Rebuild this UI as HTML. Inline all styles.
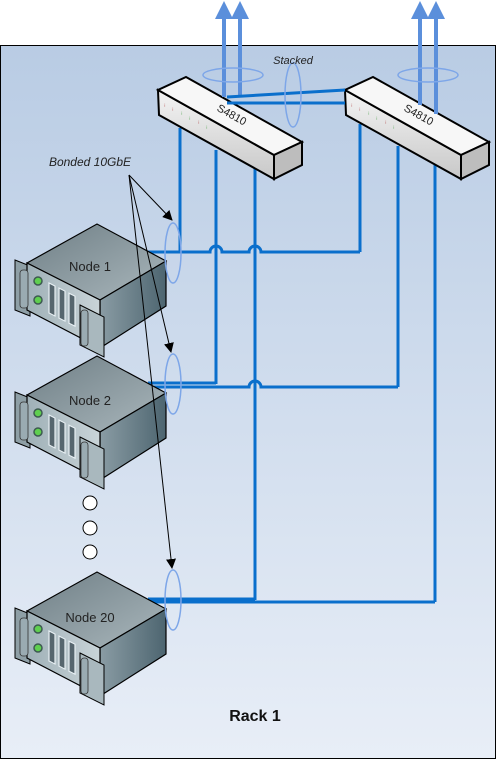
<!DOCTYPE html>
<html><head><meta charset="utf-8"><style>
html,body{margin:0;padding:0;background:#fff;}
svg{display:block;font-family:"Liberation Sans",sans-serif;}
</style></head><body>
<svg width="496" height="759" viewBox="0 0 496 759" xmlns="http://www.w3.org/2000/svg">
<defs>
<linearGradient id="bg" x1="0" y1="0" x2="0" y2="1">
<stop offset="0" stop-color="#b9cce4"/><stop offset="1" stop-color="#e8eef7"/>
</linearGradient>
<linearGradient id="top" x1="0" y1="0" x2="1" y2="1">
<stop offset="0" stop-color="#6f7f86"/><stop offset="1" stop-color="#aab7bc"/>
</linearGradient>
<linearGradient id="right" x1="0" y1="0" x2="1" y2="0">
<stop offset="0" stop-color="#8a9ca4"/><stop offset="1" stop-color="#4d6570"/>
</linearGradient>
<linearGradient id="front" x1="0" y1="0" x2="1" y2="0">
<stop offset="0" stop-color="#9fb0b7"/><stop offset="1" stop-color="#c9d4d8"/>
</linearGradient>
<linearGradient id="swf" x1="0" y1="0" x2="0" y2="1">
<stop offset="0" stop-color="#f4f4f4"/><stop offset="1" stop-color="#c8c8c8"/>
</linearGradient>
<marker id="ah" markerWidth="10" markerHeight="10" refX="9" refY="5" orient="auto" markerUnits="userSpaceOnUse">
<path d="M0,0 L10,5 L0,10 Z" fill="#000"/>
</marker>
<g id="srv">
<polygon points="15,392 30,398 30,448 15,442" fill="#8e9fa6" stroke="#000" stroke-width="1"/>
<polygon points="27,395 97,356 166,393 100,432" fill="url(#top)" stroke="#000" stroke-width="1.2"/>
<polygon points="100,432 166,393 166,438 100,480" fill="url(#right)" stroke="#000" stroke-width="1.2"/>
<polygon points="27,395 100,432 100,480 27,442" fill="url(#front)" stroke="#000" stroke-width="1.2"/>
<rect x="20" y="402" width="8" height="38" rx="3" fill="#9aabb2" stroke="#333" stroke-width="0.8"/>
<circle cx="38" cy="413" r="4" fill="#5fcf4f" stroke="#3d5a50" stroke-width="1.5"/>
<circle cx="38" cy="432" r="4" fill="#5fcf4f" stroke="#3d5a50" stroke-width="1.5"/>
<rect x="49" y="415" width="6" height="30" fill="#56666e" stroke="#e8f0f4" stroke-width="1.2" transform="skewY(27) translate(0,-25)"/>
<rect x="59" y="420" width="6" height="30" fill="#56666e" stroke="#e8f0f4" stroke-width="1.2" transform="skewY(27) translate(0,-30)"/>
<rect x="69" y="425" width="6" height="30" fill="#56666e" stroke="#e8f0f4" stroke-width="1.2" transform="skewY(27) translate(0,-35)"/>
<polygon points="80,437 104,449 104,489 80,477" fill="#a9b8be" stroke="#000" stroke-width="1"/>
<rect x="81" y="442" width="7" height="36" rx="3" fill="#9aabb2" stroke="#333" stroke-width="0.8"/>
</g>
</defs>
<rect x="0.5" y="45.5" width="495" height="713" fill="url(#bg)" stroke="#000" stroke-width="1"/>

<!-- downlinks (under switches) -->
<g stroke="#0a6fcc" stroke-width="3" fill="none">
<line x1="180" y1="128" x2="180" y2="252"/>
<line x1="216" y1="150" x2="216" y2="384"/>
<line x1="255" y1="168" x2="255" y2="600"/>
<line x1="360" y1="124" x2="360" y2="252"/>
<line x1="398" y1="146" x2="398" y2="387"/>
<line x1="435" y1="164" x2="435" y2="602"/>
<path d="M148,252 H210 a6,6 0 0 1 12,0 H249 a6,6 0 0 1 12,0 H360"/>
<path d="M148,383 H216"/>
<path d="M148,387 H249 a6,6 0 0 1 12,0 H398"/>
<path d="M148,599 H255"/>
<path d="M148,602 H435"/>
</g>

<!-- switches -->
<g>
<polygon points="158,90 274,155 274,179 159,115" fill="url(#swf)" stroke="#000" stroke-width="2"/>
<polygon points="186,77 302,142 274,155 158,90" fill="#f7f7f7" stroke="#000" stroke-width="2"/>
<polygon points="274,155 302,142 302,165 274,179" fill="#bdbdbd" stroke="#000" stroke-width="2"/>
</g>
<g transform="translate(187,0)">
<polygon points="158,90 274,155 274,179 159,115" fill="url(#swf)" stroke="#000" stroke-width="2"/>
<polygon points="186,77 302,142 274,155 158,90" fill="#f7f7f7" stroke="#000" stroke-width="2"/>
<polygon points="274,155 302,142 302,165 274,179" fill="#bdbdbd" stroke="#000" stroke-width="2"/>
</g>
<g font-size="11">
<text x="230" y="118" transform="rotate(29 230 118)" text-anchor="middle" fill="#222">S4810</text>
<text x="417" y="118" transform="rotate(29 417 118)" text-anchor="middle" fill="#222">S4810</text>
</g>
<g font-size="5" fill="#a33">
<text x="164" y="107">⁝</text><text x="172" y="111">⁝</text><text x="181" y="115" fill="#393">⁝</text><text x="189" y="120" fill="#393">⁝</text><text x="198" y="124">⁝</text><text x="206" y="129" fill="#393">⁝</text>
<text x="351" y="107">⁝</text><text x="359" y="111">⁝</text><text x="368" y="115" fill="#393">⁝</text><text x="376" y="120" fill="#393">⁝</text><text x="385" y="124">⁝</text><text x="393" y="129" fill="#393">⁝</text>
</g>

<!-- uplinks -->
<g stroke="#5b8fdb" stroke-width="4" fill="none">
<line x1="224" y1="97" x2="224" y2="15"/><line x1="240" y1="97" x2="240" y2="15"/>
<line x1="420" y1="105" x2="420" y2="15"/><line x1="436" y1="114" x2="436" y2="15"/>
</g>
<g fill="#5b8fdb">
<polygon points="224,1 215,19 233,19"/><polygon points="240,1 231,19 249,19"/>
<polygon points="420,1 411,19 429,19"/><polygon points="436,1 427,19 445,19"/>
</g>
<g fill="none" stroke="#7da6e8" stroke-width="1.5">
<ellipse cx="233" cy="75" rx="30" ry="7"/>
<ellipse cx="428" cy="75" rx="30" ry="7"/>
</g>

<!-- stack links -->
<g stroke="#0a6fcc" stroke-width="3" fill="none">
<line x1="227" y1="97" x2="345" y2="90"/>
<line x1="227" y1="103" x2="345" y2="103"/>
</g>

<ellipse cx="293" cy="95" rx="8" ry="32" fill="none" stroke="#7da6e8" stroke-width="1.5"/>
<text x="293" y="64" font-size="11" font-style="italic" text-anchor="middle" fill="#222">Stacked</text>

<!-- servers -->
<use href="#srv" transform="translate(0,-132)"/>
<use href="#srv"/>
<use href="#srv" transform="translate(0,216)"/>
<g font-size="13" fill="#222" text-anchor="middle">
<text x="90" y="271">Node 1</text>
<text x="90" y="405">Node 2</text>
<text x="90" y="622">Node 20</text>
</g>

<g fill="#fff" stroke="#000" stroke-width="1">
<circle cx="90" cy="503" r="7"/><circle cx="90" cy="528" r="7"/><circle cx="90" cy="552" r="7"/>
</g>

<g fill="none" stroke="#7da6e8" stroke-width="1.5">
<ellipse cx="173" cy="253" rx="8" ry="30"/>
<ellipse cx="173" cy="384" rx="8" ry="30"/>
<ellipse cx="173" cy="600" rx="8" ry="30"/>
</g>

<text x="90" y="166" font-size="12" font-style="italic" text-anchor="middle" fill="#222">Bonded 10GbE</text>
<g stroke="#000" stroke-width="1" fill="none" marker-end="url(#ah)">
<line x1="129" y1="175" x2="172" y2="220"/>
<line x1="129" y1="175" x2="171" y2="352"/>
<line x1="129" y1="175" x2="172" y2="568"/>
</g>

<text x="255" y="721" font-size="16" font-weight="bold" text-anchor="middle" fill="#111">Rack 1</text>
</svg>
</body></html>
